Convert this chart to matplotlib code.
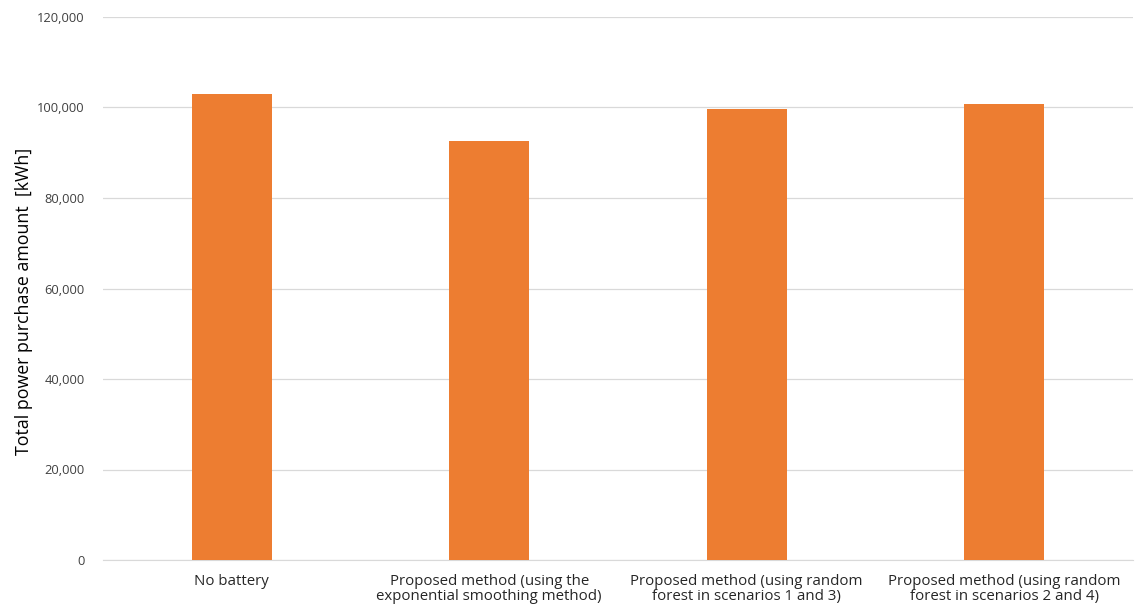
import numpy as np
import matplotlib.pyplot as plt
from matplotlib.ticker import FuncFormatter

# Data
categories = [
    'No battery',
    'Proposed method (using the\nexponential smoothing method)',
    'Proposed method (using random\nforest in scenarios 1 and 3)',
    'Proposed method (using random\nforest in scenarios 2 and 4)',
]
purchase_kwh = [102900, 92600, 99750, 100700]
y_ticks = [0, 20000, 40000, 60000, 80000, 100000, 120000]

plt.rcParams['font.family'] = ['Open Sans', 'DejaVu Sans']

fig = plt.figure(figsize=(11.35, 6.12), dpi=100)
ax = fig.add_axes([103 / 1135, 52 / 612, 1030 / 1135, 543 / 612])

x = np.arange(len(categories))
ax.bar(x, purchase_kwh, width=0.31, color='#ED7D31', zorder=3)

ax.set_xlim(-0.5, len(categories) - 0.5)
ax.set_ylim(0, 120000)
ax.set_yticks(y_ticks)
ax.yaxis.set_major_formatter(FuncFormatter(lambda v, p: f'{int(v):,}'))
ax.set_xticks(x)
ax.set_xticklabels(categories, fontsize=10.8, color='#262626', linespacing=1.0)
ax.tick_params(axis='y', labelsize=9.3, colors='#404040', length=0, pad=13)
ax.tick_params(axis='x', length=0, pad=10)

ax.grid(axis='y', color='#D9D9D9', linewidth=0.9, zorder=0)
for side in ['top', 'right', 'left']:
    ax.spines[side].set_visible(False)
ax.spines['bottom'].set_color('#D9D9D9')

ax.set_ylabel('Total power purchase amount  [kWh]', fontsize=12.8, color='#000000')
ax.yaxis.set_label_coords(-0.068, 0.477)

plt.savefig('out.png', dpi=100)
